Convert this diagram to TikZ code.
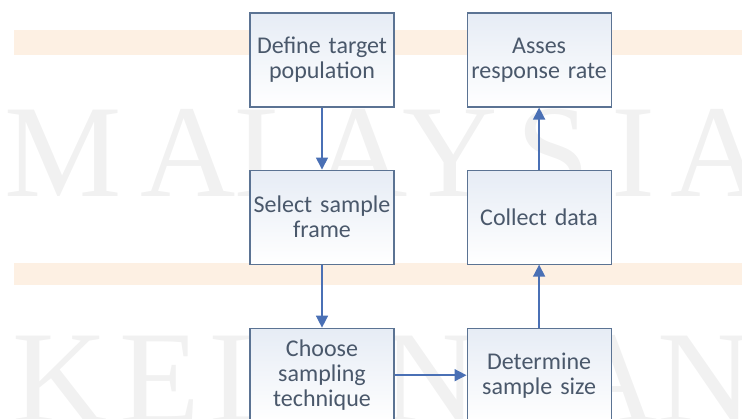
\documentclass[tikz,border=0pt]{standalone}
\usepackage{fontspec}
\setmainfont{Carlito}
\newfontfamily\markfont{Liberation Serif}
\usetikzlibrary{positioning, arrows.meta}
\definecolor{boxline}{HTML}{5B7393}
\definecolor{boxtext}{HTML}{4A586B}
\definecolor{boxtop}{HTML}{E6ECF5}
\definecolor{arrowblue}{HTML}{4A70B5}
\definecolor{band}{HTML}{FDF0E3}
\definecolor{wmgray}{HTML}{F1F1F1}
\tikzset{
stage/.style = {rectangle, draw = boxline, line width = 1.1pt, top color = boxtop, 
	bottom color = white, minimum width = 144pt, minimum height = 94pt, 
	text width = 142pt, align = center, inner sep = 0pt, text = boxtext, 
	font = \fontsize{24}{25}\selectfont},
flow/.style = {-{Triangle[length = 12pt, width = 12pt]}, draw = arrowblue, 
	line width = 1.5pt},
watermark/.style = {text = wmgray, font = \markfont\fontsize{132}{132}\selectfont, 
	inner sep = 0pt, anchor = base}
}

\begin{document}
\begin{tikzpicture}[x = 1pt, y = 1pt]
\useasboundingbox (0,0) rectangle (742,418);

%% The page background
\fill [band] (14,363) rectangle (742,388);
\fill [band] (14,133) rectangle (742,155);
\foreach \l/\x [count = \i] in {M/63, A/188, L/275, A/360, Y/450, S/553, I/633, A/718}
	\node [watermark] (wmtop\i) at (\x,221) {\l};
\foreach \l/\x [count = \i] in {K/60, E/160, L/250, A/340, N/430, T/520, A/610, N/705}
	\node [watermark] (wmbot\i) at (\x,-4) {\l};

%% The stages
\node [stage] (define) at (322,358) {Define target\\population};
\node [stage] (select) [below = 62pt of define] {Select sample\\frame};
\node [stage] (choose) [below = 63pt of select] {Choose\\sampling\\technique};
\node [stage] (assess) [right = 72pt of define] {Asses\\response rate};
\node [stage] (collect) [below = 62pt of assess] {Collect data};
\node [stage] (determine) [below = 63pt of collect] {Determine\\sample size};

%% The flow
\path (define) edge [flow] (select);
\path (select) edge [flow] (choose);
\path (choose) edge [flow] (determine);
\path (determine) edge [flow] (collect);
\path (collect) edge [flow] (assess);

\end{tikzpicture}
\end{document}
